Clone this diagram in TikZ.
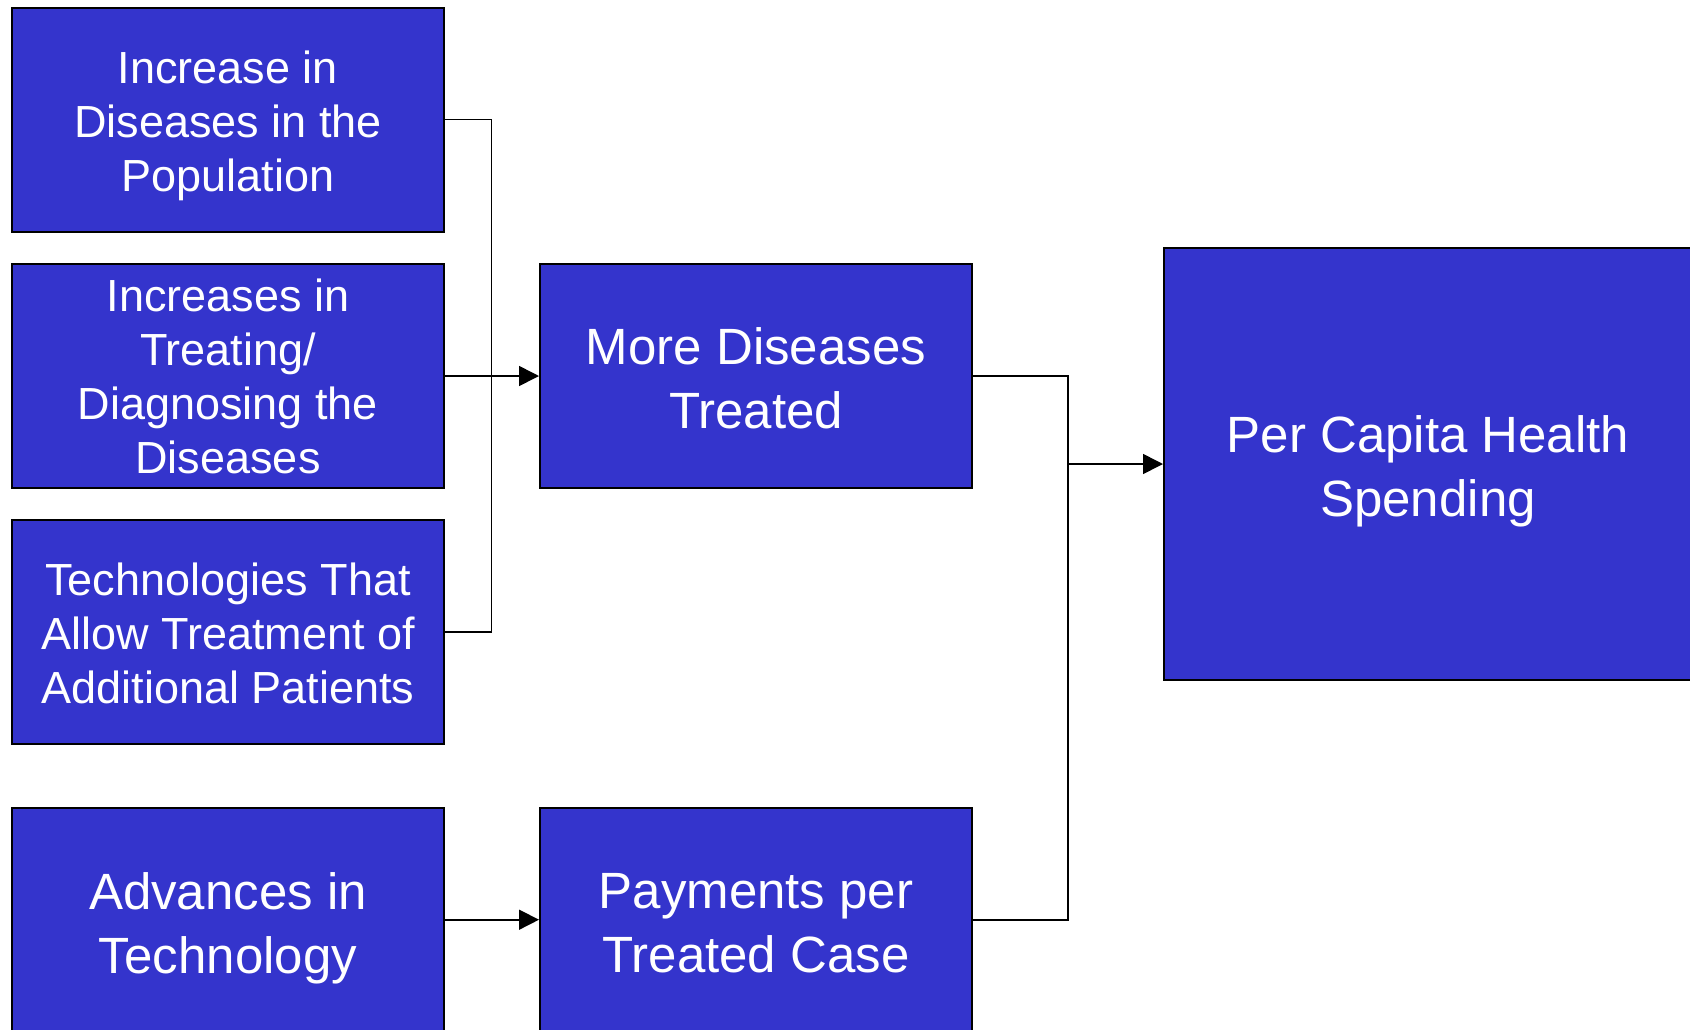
\documentclass[tikz,border=0pt]{standalone}
\usepackage{fontspec}
\setmainfont{Liberation Sans}
\usetikzlibrary{arrows.meta}
\definecolor{boxblue}{RGB}{52,52,204}
\tikzset{
  box/.style={draw=black, line width=2pt, fill=boxblue, inner sep=0pt,
    minimum width=432pt, minimum height=224pt},
  smalltext/.style={font=\fontsize{45}{54}\selectfont, text=white, align=center, inner sep=0pt},
  bigtext/.style={font=\fontsize{51}{64}\selectfont, text=white, align=center, inner sep=0pt},
  link/.style={draw=black, line width=1.6pt},
  arrowlink/.style={link, -{Triangle[length=20pt,width=20pt]}}
}
\begin{document}
\begin{tikzpicture}[x=1pt,y=-1pt]
\useasboundingbox (0,0) rectangle (1690,1029);
\clip (0,0) rectangle (1690,1029);
\node[box, label={[smalltext, yshift=-6pt]center:{Increase in\\Diseases in the\\Population}}] (b1) at (228,119.6) {};
\node[box, label={[smalltext, yshift=-0.5pt]center:{Increases in\\Treating/\\Diagnosing the\\Diseases}}] (b2) at (228,376) {};
\node[box, label={[smalltext, yshift=-1pt]center:{Technologies That\\Allow Treatment of\\Additional Patients}}] (b3) at (228,632) {};
\node[box, label={[bigtext, yshift=-8.5pt]center:{Advances in\\Technology}}] (b4) at (228,919.7) {};
\node[box, label={[bigtext, yshift=-2.5pt]center:{More Diseases\\Treated}}] (more) at (756,376) {};
\node[box, label={[bigtext, yshift=-3pt]center:{Payments per\\Treated Case}}] (pay) at (756,919.7) {};
\node[box, minimum width=528pt, minimum height=432pt, label={[bigtext, yshift=-7.5pt]center:{Per Capita Health\\Spending}}] (pc) at (1428,464) {};
\coordinate (j) at (491.5,376);
\coordinate (k) at (1068,464);
\draw[link] (b1.east) -| (j) |- (b3.east);
\draw[arrowlink] (b2.east) -- (more.west);
\draw[arrowlink] (b4.east) -- (pay.west);
\draw[link] (more.east) -| (k);
\draw[link] (pay.east) -| (k);
\draw[arrowlink] (k) -- (pc.west);
\end{tikzpicture}
\end{document}
